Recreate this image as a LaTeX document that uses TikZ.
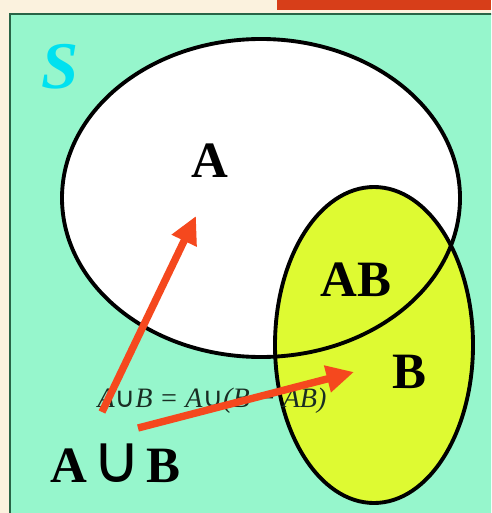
\documentclass[tikz,border=0pt]{standalone}
\usepackage{fontspec}
\setmainfont{Liberation Serif}
\newfontfamily\symfnt{DejaVu Sans}
\usetikzlibrary{arrows.meta}

\begin{document}
\begin{tikzpicture}[x=0.02cm, y=-0.02cm, >={Triangle[length=0.55cm, width=0.52cm]},
		biglab/.style={font=\fontsize{29}{30}\selectfont\bfseries},
		redarrow/.style={->, line width=4.2pt, arrowred}]
		\definecolor{cream}{RGB}{251,242,222}
		\definecolor{barred}{RGB}{215,62,25}
		\definecolor{seagreen}{RGB}{150,246,204}
		\definecolor{framegreen}{RGB}{40,100,70}
		\definecolor{limey}{RGB}{222,250,50}
		\definecolor{arrowred}{RGB}{245,72,30}
		\definecolor{cyanS}{RGB}{0,225,240}
		\definecolor{formula}{RGB}{25,45,35}
		
		% 背景
		\useasboundingbox (0,0) rectangle (491,513);
		\fill[cream] (0,0) rectangle (491,513);
		\fill[barred] (277,0) rectangle (491,10);
		\clip (0,0) rectangle (491,513);
		\draw[line width=1.2pt, framegreen, fill=seagreen] (10,14) rectangle (500,520);
		
		% 椭圆 A 与 B
		\fill[white] (261,198) ellipse [x radius=199, y radius=159];
		\fill[limey] (374,345) ellipse [x radius=99, y radius=158];
		\draw[line width=2.2pt] (261,198) ellipse [x radius=199, y radius=159];
		\draw[line width=2.2pt] (374,345) ellipse [x radius=99, y radius=158];
		
		% 文字
		\node[font=\fontsize{38}{40}\selectfont\bfseries\itshape, text=cyanS] (lblS) at (60,67) {S};
		\node[biglab] (lblA) at (210,161) {A};
		\node[biglab] (lblAB) at (356,280) {AB};
		\node[biglab] (lblB) at (409,372) {B};
		\node[biglab, anchor=base west, inner sep=0pt] (lblU) at (50,482)
		{A\hspace{3pt}{\symfnt\mdseries\fontsize{38}{40}\selectfont ∪}\hspace{3pt}B};
		\node[font=\fontsize{16}{18}\selectfont\itshape, text=formula] (eq) at (212,401)
		{A{\upshape\symfnt ∪}B = A{\upshape\symfnt ∪}(B − AB)};
		
		% 箭头
		\coordinate (t1) at (102,412);
		\coordinate (h1) at (196,216);
		\coordinate (t2) at (138,428);
		\coordinate (h2) at (354,372);
		\draw[redarrow] (t1) -- (h1);
		\draw[redarrow] (t2) -- (h2);
	\end{tikzpicture}
\end{document}
